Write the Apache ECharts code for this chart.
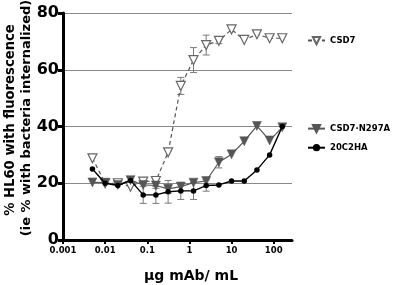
<!DOCTYPE html>
<html><head><meta charset="utf-8">
<script src="https://cdn.jsdelivr.net/npm/echarts@6/dist/echarts.min.js"></script>
<style>html,body{margin:0;padding:0;background:#fff}#c{width:397px;height:285px}</style>
</head><body><div id="c"></div>
<script>
const conc = [0.005, 0.01, 0.02, 0.04, 0.08, 0.16, 0.3125, 0.625, 1.25, 2.5, 5, 10, 20, 40, 80, 160];
const csd7 = [28.8, 20.0, 20.0, 18.8, 20.6, 20.8, 30.9, 54.3, 63.4, 68.7, 70.2, 74.2, 70.5, 72.5, 71.1, 71.1];
const csd7Err = [0, 0, 0, 0, 0, 0, 0, 3, 4.4, 3.5, 1, 0, 0, 0, 0, 0];
const n297a = [20.3, 20.2, 19.4, 21.1, 19.4, 19.2, 18.0, 18.8, 20.2, 20.8, 27.4, 30.2, 34.8, 40.2, 35.1, 39.7];
const n297aErr = [0, 0, 0, 0, 0, 1, 1.5, 1.5, 0, 0, 2, 0, 0, 0, 0, 0];
const c20 = [25.0, 20.0, 19.2, 21.0, 15.9, 15.9, 17.0, 17.3, 17.3, 19.2, 19.4, 20.8, 20.8, 24.7, 30.0, 40.0];
const c20Err = [0, 0, 0, 0, 3, 3, 4, 3, 3, 2, 0, 0, 0, 0, 0, 0];
const xTicks = [0.001, 0.01, 0.1, 1, 10, 100];
const xTickLabels = ['0.001', '0.01', '0.1', '1', '10', '100'];
const seriesNames = ['CSD7', 'CSD7·N297A', '20C2HA'];

const FONT = 'DejaVu Sans';
const chart = echarts.init(document.getElementById('c'), null, {renderer: 'canvas'});

function pairs(ys) { return conc.map((x, i) => [x, ys[i]]); }
function errData(ys, es) { return conc.map((x, i) => [x, ys[i], es[i]]).filter(d => d[2] > 0); }
function errSeries(ys, es) {
  return {
    type: 'custom', data: errData(ys, es), z: 1, silent: true,
    renderItem: function (params, api) {
      const x = api.value(0), y = api.value(1), e = api.value(2);
      const top = api.coord([x, y + e]);
      const bot = api.coord([x, y - e]);
      const hw = 3.5;
      const st = {stroke: '#7a7a7a', lineWidth: 1};
      return {type: 'group', children: [
        {type: 'line', shape: {x1: top[0], y1: top[1], x2: bot[0], y2: bot[1]}, style: st},
        {type: 'line', shape: {x1: top[0] - hw, y1: top[1], x2: top[0] + hw, y2: top[1]}, style: st},
        {type: 'line', shape: {x1: bot[0] - hw, y1: bot[1], x2: bot[0] + hw, y2: bot[1]}, style: st}
      ]};
    }
  };
}

const legendText = {fontFamily: FONT, fontWeight: 'bold', fontSize: 8.5, color: '#000'};
const option = {
  animation: false,
  backgroundColor: '#fff',
  grid: {left: 63, right: 105, top: 13, bottom: 45},
  xAxis: {
    type: 'log', logBase: 10, min: 0.001, max: 272,
    axisLine: {lineStyle: {color: '#000', width: 3}},
    axisTick: {show: true, length: 4, lineStyle: {color: '#000', width: 2}, customValues: xTicks},
    axisLabel: {customValues: xTicks, color: '#000', fontFamily: FONT, fontWeight: 'bold', fontSize: 8.5, margin: 6,
      formatter: function (v) { const i = xTicks.findIndex(t => Math.abs(Math.log10(t) - Math.log10(v)) < 1e-6); return i >= 0 ? xTickLabels[i] : ''; }},
    splitLine: {show: false}, minorTick: {show: false}
  },
  yAxis: {
    type: 'value', min: 0, max: 80, interval: 20,
    axisLine: {show: true, lineStyle: {color: '#000', width: 3}},
    axisTick: {show: true, length: 5, lineStyle: {color: '#000', width: 3}},
    axisLabel: {color: '#000', fontFamily: FONT, fontWeight: 'bold', fontSize: 16, margin: 4},
    splitLine: {show: true, lineStyle: {color: '#8a8a8a', width: 1}}
  },
  legend: [
    {data: [seriesNames[0]], left: 307, top: 36, padding: 0, orient: 'vertical', itemWidth: 17, itemHeight: 9, symbolRotate: 'inherit',
     textStyle: legendText},
    {data: [seriesNames[1], seriesNames[2]], left: 307, top: 124, padding: 0, orient: 'vertical', itemGap: 10, itemWidth: 17, itemHeight: 9, symbolRotate: 'inherit',
     textStyle: legendText}
  ],
  graphic: [
    {type: 'text', x: 191, y: 276, style: {text: 'μg mAb/ mL', font: 'bold 14px "DejaVu Sans"', fill: '#000', textAlign: 'center', textVerticalAlign: 'middle'}},
    {type: 'text', rotation: Math.PI / 2, x: 11, y: 120, style: {text: '% HL60 with fluorescence', font: 'bold 13.2px "DejaVu Sans"', fill: '#000', textAlign: 'center', textVerticalAlign: 'middle'}},
    {type: 'text', rotation: Math.PI / 2, x: 27, y: 118, style: {text: '(ie % with bacteria internalized)', font: 'bold 13px "DejaVu Sans"', fill: '#000', textAlign: 'center', textVerticalAlign: 'middle'}}
  ],
  series: [
    errSeries(csd7, csd7Err),
    errSeries(n297a, n297aErr),
    errSeries(c20, c20Err),
    {name: seriesNames[0], type: 'line', data: pairs(csd7), z: 3,
     symbol: 'triangle', symbolRotate: 180, symbolSize: 9, showAllSymbol: true,
     lineStyle: {color: '#555', width: 1.2, type: [4, 3]},
     itemStyle: {color: '#fff', borderColor: '#666', borderWidth: 1.2}},
    {name: seriesNames[1], type: 'line', data: pairs(n297a), z: 4,
     symbol: 'triangle', symbolRotate: 180, symbolSize: 9, showAllSymbol: true,
     lineStyle: {color: '#555', width: 1.2},
     itemStyle: {color: '#555', borderColor: '#555', borderWidth: 0.5}},
    {name: seriesNames[2], type: 'line', data: pairs(c20), z: 5,
     symbol: 'circle', symbolSize: 5.5, showAllSymbol: true,
     lineStyle: {color: '#000', width: 1.4},
     itemStyle: {color: '#000', borderColor: '#000', borderWidth: 0}}
  ]
};
chart.setOption(option);
</script>
</body></html>
